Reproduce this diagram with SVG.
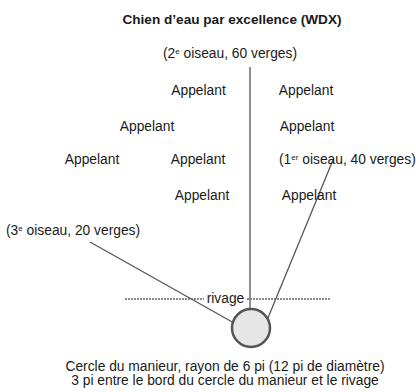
<svg xmlns="http://www.w3.org/2000/svg" width="416" height="392" viewBox="0 0 416 392">
<style>
text{font-family:"Liberation Sans",Arial,sans-serif;font-size:13.8px;fill:#1a1a1a}
.t{font-weight:bold;font-size:13.6px}
.m{text-anchor:middle}
.sup{font-size:8px}
.ln{stroke:#555;stroke-width:1.3;fill:none}
.dash{stroke:#666;stroke-width:1.3;stroke-dasharray:2 1;fill:none}
</style>
<rect width="416" height="392" fill="#fff"/>
<g id="connectors">
<line class="ln" x1="250" y1="67" x2="250" y2="334"/>
<line class="ln" x1="333" y1="160" x2="263" y2="330"/>
<line class="ln" x1="90" y1="242" x2="234" y2="323"/>
<line class="dash" x1="125" y1="299" x2="204" y2="299"/>
<line class="dash" x1="247" y1="299" x2="331" y2="299"/>
</g>
<g id="title"><text class="t m" x="232" y="24">Chien d’eau par excellence (WDX)</text></g>
<g id="bird2"><text class="m" x="230" y="58">(2<tspan class="sup" baseline-shift="super">e</tspan> oiseau, 60 verges)</text></g>
<g id="a1"><text class="m" x="198.5" y="95">Appelant</text></g>
<g id="a2"><text class="m" x="306" y="95">Appelant</text></g>
<g id="a3"><text class="m" x="147" y="131">Appelant</text></g>
<g id="a4"><text class="m" x="307" y="131">Appelant</text></g>
<g id="a5"><text class="m" x="92" y="164">Appelant</text></g>
<g id="a6"><text class="m" x="198" y="164">Appelant</text></g>
<g id="bird1"><text x="279" y="164">(1<tspan class="sup" baseline-shift="super">er</tspan> oiseau, 40 verges)</text></g>
<g id="a7"><text class="m" x="202" y="200">Appelant</text></g>
<g id="a8"><text class="m" x="309" y="200">Appelant</text></g>
<g id="bird3"><text x="6" y="235">(3<tspan class="sup" baseline-shift="super">e</tspan> oiseau, 20 verges)</text></g>
<g id="rivage"><text class="m" x="225.5" y="303">rivage</text></g>
<g id="circle"><circle cx="251" cy="328" r="19" fill="#e6e6e6" stroke="#555" stroke-width="2.5"/></g>
<g id="caption">
<text class="m" x="225" y="371">Cercle du manieur, rayon de 6 pi (12 pi de diamètre)</text>
<text class="m" x="225" y="385">3 pi entre le bord du cercle du manieur et le rivage</text>
</g>
</svg>
